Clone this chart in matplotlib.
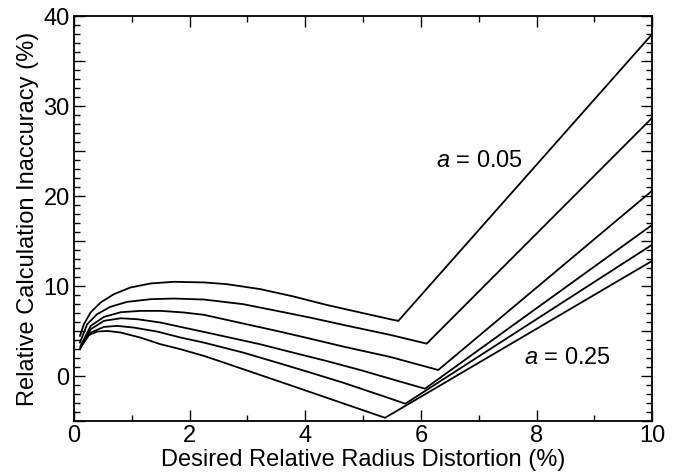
import matplotlib
matplotlib.use('Agg')
import matplotlib.pyplot as plt
from matplotlib import font_manager
from matplotlib.ticker import MultipleLocator, FuncFormatter

names = set(f.name for f in font_manager.fontManager.ttflist)
fam = 'Liberation Sans Narrow' if 'Liberation Sans Narrow' in names else 'Liberation Sans'
plt.rcParams['font.family'] = [fam, 'DejaVu Sans']
plt.rcParams['mathtext.fontset'] = 'custom'
plt.rcParams['mathtext.rm'] = fam
plt.rcParams['mathtext.it'] = fam + ':italic'

# curves, top (a = 0.05) to bottom (a = 0.25)
x1 = [0.104, 0.173, 0.288, 0.461, 0.692, 0.98, 1.33, 1.73, 2.25, 2.64, 3.22, 3.79, 4.37, 4.95, 5.29, 5.47, 5.61, 10.0]
y1 = [4.46, 5.76, 7.06, 8.17, 9.10, 9.84, 10.29, 10.47, 10.4, 10.21, 9.66, 8.85, 7.90, 7.06, 6.57, 6.31, 6.13, 38.0]

x2 = [0.104, 0.23, 0.40, 0.63, 0.92, 1.33, 1.73, 2.25, 2.93, 3.51, 4.08, 4.66, 5.47, 6.10, 10.0]
y2 = [3.71, 5.76, 6.87, 7.69, 8.24, 8.54, 8.61, 8.5, 7.98, 7.24, 6.50, 5.68, 4.57, 3.60, 28.7]

x3 = [0.115, 0.29, 0.52, 0.81, 1.15, 1.5, 1.9, 2.25, 2.93, 3.51, 4.08, 4.66, 5.47, 6.30, 10.0]
y3 = [3.34, 5.57, 6.57, 7.09, 7.24, 7.24, 7.06, 6.8, 5.83, 5.01, 4.16, 3.27, 2.12, 0.67, 20.6]

x4 = [0.115, 0.29, 0.52, 0.81, 1.10, 1.5, 1.9, 2.25, 2.64, 3.22, 3.79, 4.37, 4.95, 5.47, 6.07, 10.0]
y4 = [3.23, 5.2, 6.13, 6.42, 6.31, 5.94, 5.38, 4.9, 4.35, 3.53, 2.6, 1.67, 0.67, -0.30, -1.41, 16.8]

x5 = [0.115, 0.29, 0.52, 0.75, 1.04, 1.44, 1.85, 2.25, 2.93, 3.51, 4.08, 4.66, 5.47, 5.73, 10.0]
y5 = [3.16, 4.83, 5.46, 5.57, 5.38, 4.94, 4.27, 3.71, 2.6, 1.5, 0.4, -0.75, -2.5, -3.08, 14.6]

x6 = [0.104, 0.23, 0.40, 0.58, 0.81, 1.15, 1.5, 1.85, 2.25, 2.64, 3.22, 3.79, 4.37, 4.95, 5.38, 10.0]
y6 = [2.97, 4.46, 4.94, 5.01, 4.83, 4.27, 3.53, 2.97, 2.23, 1.39, 0.12, -1.13, -2.41, -3.69, -4.64, 12.8]

curves = [(x1, y1), (x2, y2), (x3, y3), (x4, y4), (x5, y5), (x6, y6)]

fig = plt.figure(figsize=(6.78, 4.72), dpi=100)
ax = fig.add_axes([0.109, 0.108, 0.853, 0.858])

for xs, ys in curves:
    ax.plot(xs, ys, color='black', lw=1.3, solid_joinstyle='round')

ax.set_xlim(0, 10)
ax.set_ylim(-5, 40)
ax.xaxis.set_major_locator(MultipleLocator(2))
ax.xaxis.set_minor_locator(MultipleLocator(1))
ax.yaxis.set_major_locator(MultipleLocator(5))
ax.yaxis.set_minor_locator(MultipleLocator(1))
ax.yaxis.set_major_formatter(FuncFormatter(lambda v, p: '%d' % v if v % 10 == 0 else ''))
ax.tick_params(which='both', direction='in', top=True, right=True, labelsize=17, width=1.0)
ax.tick_params(which='major', length=8, pad=3)
ax.tick_params(which='minor', length=4)
for s in ax.spines.values():
    s.set_linewidth(1.3)

ax.set_xlabel('Desired Relative Radius Distortion (%)', fontsize=17, labelpad=1)
ax.set_ylabel('Relative Calculation Inaccuracy (%)', fontsize=17, labelpad=3)

ax.text(7.02, 23.9, '$a$ = 0.05', fontsize=17, ha='center', va='center')
ax.text(8.53, 2.0, '$a$ = 0.25', fontsize=17, ha='center', va='center')

fig.savefig('out.png', dpi=100)
